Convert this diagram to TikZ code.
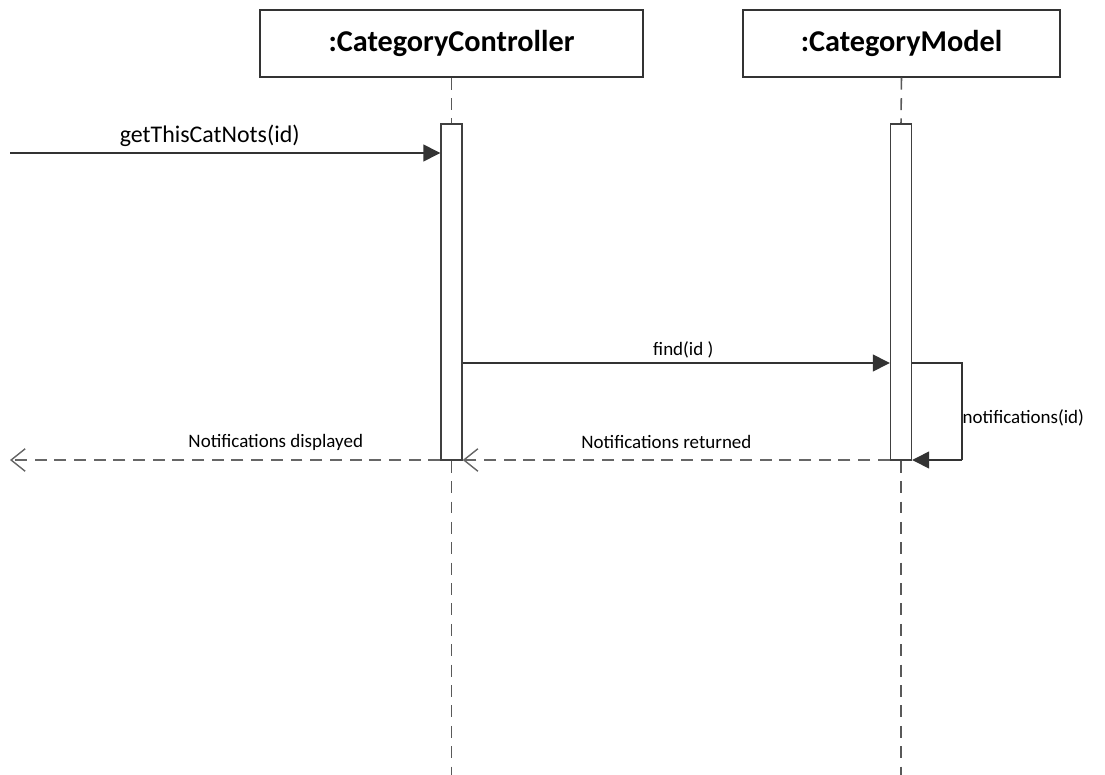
\documentclass[tikz,border=0pt]{standalone}
\usepackage{fontspec}
\setmainfont{Carlito}
\usetikzlibrary{arrows.meta,positioning}

\tikzset{
  objbox/.style={draw=black!80, line width=1pt, fill=white, font=\fontsize{21.5}{23}\selectfont\bfseries, inner sep=0pt},
  actbar/.style={draw=black!75, line width=1pt, fill=white, minimum width=0.525cm, minimum height=8.4cm, inner sep=0pt},
  lifeline/.style={draw=black!65, line width=1.1pt, dash pattern=on 8.5pt off 6pt},
  callmsg/.style={draw=black!80, line width=1pt, -{Triangle[length=12pt,width=12pt]}},
  retmsg/.style={draw=black!60, line width=1pt, dash pattern=on 8.5pt off 5.5pt, -{Straight Barb[length=10pt,width=16pt,line width=1pt]}},
  msglbl/.style={font=\fontsize{13.5}{15}\selectfont, inner sep=2pt}
}

\begin{document}
\begin{tikzpicture}[x=0.025cm, y=-0.025cm]
\useasboundingbox (0,0) rectangle (1105,775);

% objects
\node[objbox, minimum width=9.575cm, minimum height=1.675cm] (ctrl) at (451.5,43.5) {:CategoryController};
\node[objbox, minimum width=7.925cm, minimum height=1.675cm] (model) at (901.5,43.5) {:CategoryModel};

% activations
\node[actbar] (ctrlact) at (451.5,292) {};
\node[actbar] (modelact) at (901,292) {};

% lifelines
\coordinate (ctrlend) at (451.5,775);
\coordinate (modelend) at (901,775);
\draw[lifeline] (ctrl.south) -- (ctrlact.north);
\draw[lifeline] (ctrlact.south) -- (ctrlend);
\draw[lifeline] (model.south) -- (modelact.north);
\draw[lifeline] (modelact.south) -- (modelend);
\node[actbar] at (ctrlact) {};
\node[actbar] at (modelact) {};

% messages
\coordinate (caller) at (10,153);
\coordinate (viewer) at (10,460);
\coordinate (selfturn) at (962,363);
\coordinate (selfback) at (962,460);

\draw[callmsg] (caller) -- node[above, font=\fontsize{17}{19}\selectfont, inner sep=2pt, yshift=2pt, xshift=-11pt] (getlbl) {getThisCatNots(id)} (ctrlact.west |- caller);
\draw[callmsg] (ctrlact.east |- selfturn) -- node[above, msglbl, yshift=1pt, xshift=5pt] (findlbl) {find(id )} (modelact.west |- selfturn);
\draw[draw=black!80, line width=1pt] (modelact.east |- selfturn) -- (selfturn) -- (selfback)
  node[pos=0.57, right, msglbl, inner sep=0pt] (notelbl) {notifications(id)};
\draw[callmsg] (selfback) -- (modelact.east |- selfback);
\draw[retmsg] (modelact.west |- selfback) -- node[above, msglbl, yshift=5.5pt, xshift=-7pt] (retlbl) {Notifications returned} (ctrlact.east |- selfback);
\draw[retmsg] (ctrlact.west |- viewer) -- node[above, msglbl, yshift=4pt, xshift=36pt] (displbl) {Notifications displayed} (viewer);
\end{tikzpicture}
\end{document}
